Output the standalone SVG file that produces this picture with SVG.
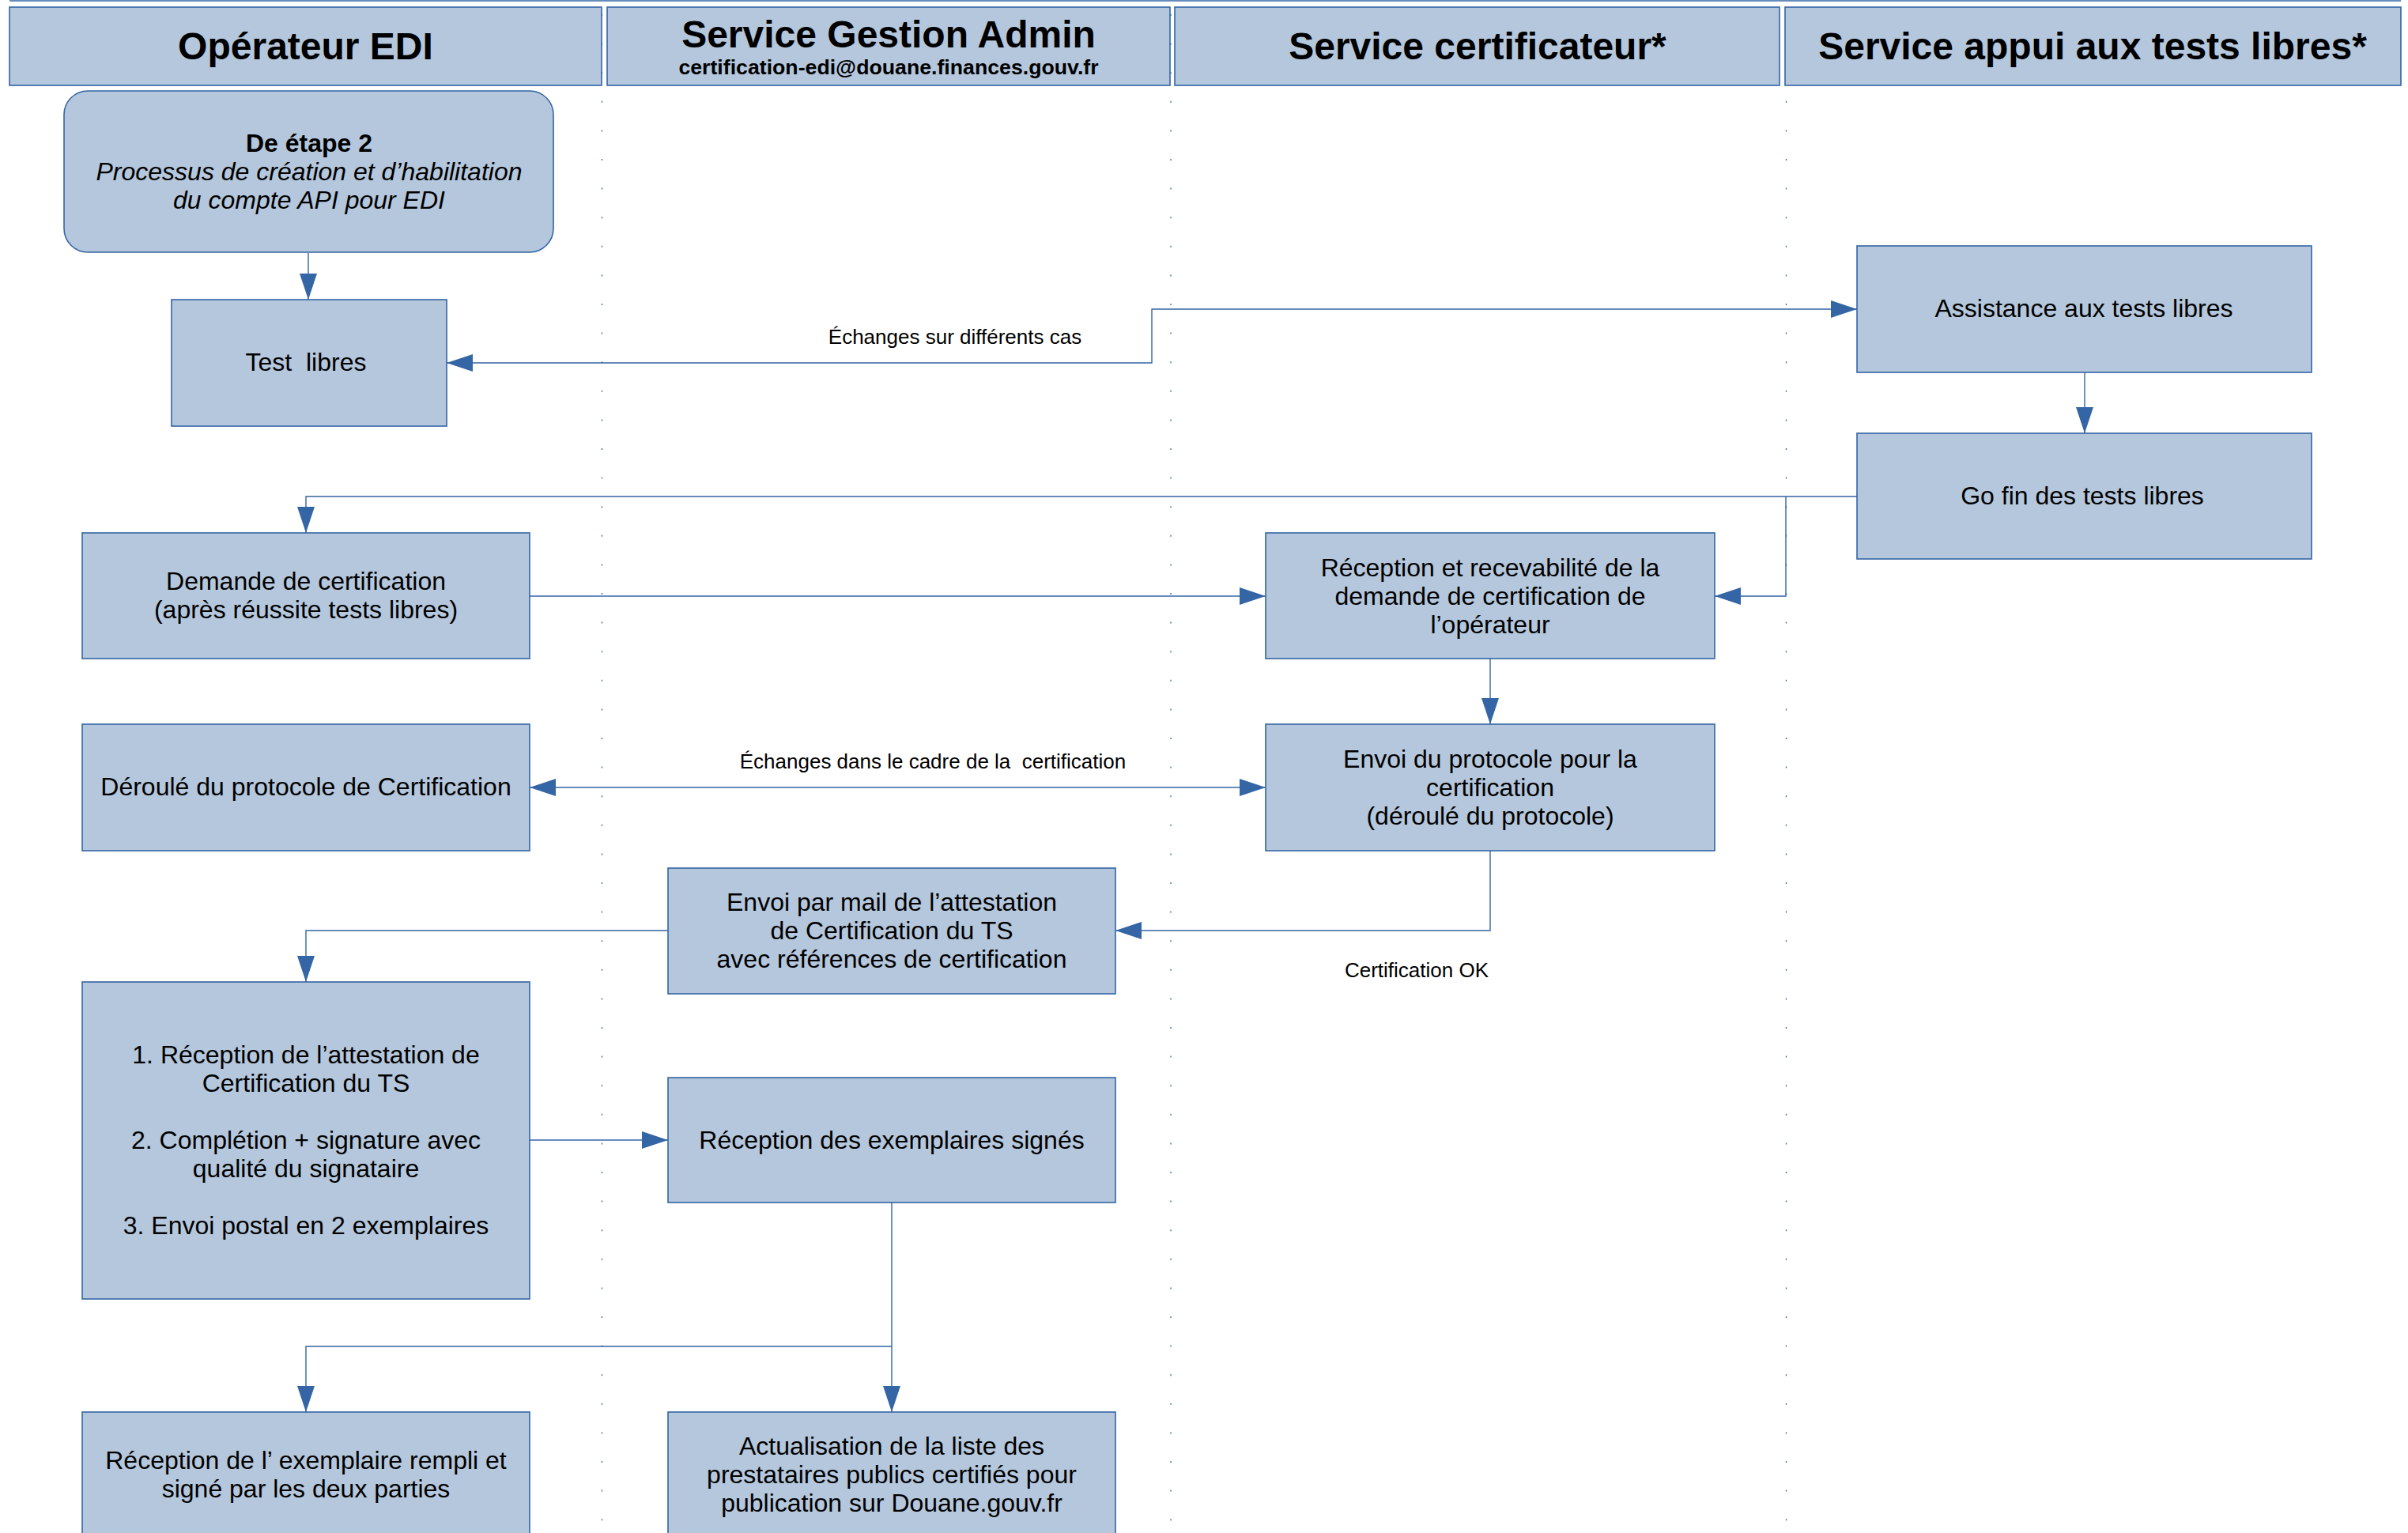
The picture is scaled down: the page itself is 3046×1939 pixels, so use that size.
<svg xmlns="http://www.w3.org/2000/svg" width="3046" height="1939" viewBox="0 0 3046 1939">
<style>
  .hdr { fill: #b4c7dc; stroke: #3465a4; stroke-width: 1.6; }
  .box { fill: #b4c7dc; stroke: #3465a4; stroke-width: 1.6; }
  .lane { stroke: #3465a4; stroke-width: 1.3; stroke-dasharray: 2 34.6; fill: none; }
  .conn { fill: none; stroke: #3465a4; stroke-width: 1.4; }
  .ht { font-family: "Liberation Sans", Arial, sans-serif; font-weight: bold; font-size: 48px; fill: #000; text-anchor: middle; }
  .mail { font-family: "Liberation Sans", Arial, sans-serif; font-weight: bold; font-size: 26.7px; fill: #000; text-anchor: middle; }
  .t { font-family: "Liberation Sans", Arial, sans-serif; font-size: 32px; fill: #000; text-anchor: middle; }
  .lbl { font-family: "Liberation Sans", Arial, sans-serif; font-size: 26px; fill: #000; text-anchor: middle; }
</style>
<defs>
  <marker id="arr" markerUnits="userSpaceOnUse" markerWidth="34" markerHeight="22" refX="33" refY="11" orient="auto-start-reverse">
    <path d="M0,0 L33,11 L0,22 z" fill="#3465a4"/>
  </marker>
</defs>
<rect width="3046" height="1939" fill="#ffffff"/>

<g id="lanes">
  <line x1="12" y1="1" x2="3037" y2="1" stroke="#3465a4" stroke-width="1.6"/>
  <line class="lane" x1="761.5" y1="18" x2="761.5" y2="1939"/>
  <line class="lane" x1="1481" y1="18" x2="1481" y2="1939"/>
  <line class="lane" x1="2259.5" y1="18" x2="2259.5" y2="1939"/>
</g>

<g id="header-operateur">
  <rect class="hdr" x="12" y="9" width="749" height="99"/>
  <text class="ht" x="386.5" y="75">Opérateur EDI</text>
</g>
<g id="header-gestion">
  <rect class="hdr" x="768" y="9" width="712" height="99"/>
  <text class="ht" x="1124" y="60">Service Gestion Admin</text>
  <text class="mail" x="1124" y="94">certification-edi@douane.finances.gouv.fr</text>
</g>
<g id="header-certificateur">
  <rect class="hdr" x="1486" y="9" width="765" height="99"/>
  <text class="ht" x="1869" y="75">Service certificateur*</text>
</g>
<g id="header-appui">
  <rect class="hdr" x="2258" y="9" width="779" height="99"/>
  <text class="ht" x="2647" y="75">Service appui aux tests libres*</text>
</g>

<g id="connectors">
  <path class="conn" d="M390,320 V379" marker-end="url(#arr)"/>
  <path class="conn" d="M2349,391 H1457 V459 H565" marker-start="url(#arr)" marker-end="url(#arr)"/>
  <path class="conn" d="M2637,471 V548" marker-end="url(#arr)"/>
  <path class="conn" d="M2349,628 H387 V674" marker-end="url(#arr)"/>
  <path class="conn" d="M2259,628 V754 H2169" marker-end="url(#arr)"/>
  <path class="conn" d="M670,754 H1601" marker-end="url(#arr)"/>
  <path class="conn" d="M1885,833 V916" marker-end="url(#arr)"/>
  <path class="conn" d="M670,996 H1601" marker-start="url(#arr)" marker-end="url(#arr)"/>
  <path class="conn" d="M1885,1076 V1177 H1411" marker-end="url(#arr)"/>
  <path class="conn" d="M845,1177 H387 V1242" marker-end="url(#arr)"/>
  <path class="conn" d="M670,1442 H845" marker-end="url(#arr)"/>
  <path class="conn" d="M1128,1521 V1786" marker-end="url(#arr)"/>
  <path class="conn" d="M1128,1703 H387 V1786" marker-end="url(#arr)"/>
  <text class="lbl" x="1208" y="435">Échanges sur différents cas</text>
  <text class="lbl" x="1180" y="972" xml:space="preserve">Échanges dans le cadre de la  certification</text>
  <text class="lbl" x="1792" y="1236">Certification OK</text>
</g>

<g id="n-start">
  <rect class="box" x="81" y="115" width="619" height="204" rx="30" ry="30"/>
  <text class="t" x="391" y="192" font-weight="bold">De étape 2</text>
  <text class="t" x="391" y="228" font-style="italic">Processus de création et d’habilitation</text>
  <text class="t" x="391" y="264" font-style="italic">du compte API pour EDI</text>
</g>
<g id="n-test">
  <rect class="box" x="217" y="379" width="348" height="160"/>
  <text class="t" x="387" y="469" xml:space="preserve">Test  libres</text>
</g>
<g id="n-assistance">
  <rect class="box" x="2349" y="311" width="575" height="160"/>
  <text class="t" x="2636" y="401">Assistance aux tests libres</text>
</g>
<g id="n-gofin">
  <rect class="box" x="2349" y="548" width="575" height="159"/>
  <text class="t" x="2634" y="638">Go fin des tests libres</text>
</g>
<g id="n-demande">
  <rect class="box" x="104" y="674" width="566" height="159"/>
  <text class="t" x="387" y="746">Demande de certification</text>
  <text class="t" x="387" y="782">(après réussite tests libres)</text>
</g>
<g id="n-reception">
  <rect class="box" x="1601" y="674" width="568" height="159"/>
  <text class="t" x="1885" y="729">Réception et recevabilité de la</text>
  <text class="t" x="1885" y="765">demande de certification de</text>
  <text class="t" x="1885" y="801">l’opérateur</text>
</g>
<g id="n-deroule">
  <rect class="box" x="104" y="916" width="566" height="160"/>
  <text class="t" x="387" y="1006">Déroulé du protocole de Certification</text>
</g>
<g id="n-envoi-protocole">
  <rect class="box" x="1601" y="916" width="568" height="160"/>
  <text class="t" x="1885" y="971">Envoi du protocole pour la</text>
  <text class="t" x="1885" y="1007">certification</text>
  <text class="t" x="1885" y="1043">(déroulé du protocole)</text>
</g>
<g id="n-envoi-mail">
  <rect class="box" x="845" y="1098" width="566" height="159"/>
  <text class="t" x="1128" y="1152">Envoi par mail de l’attestation</text>
  <text class="t" x="1128" y="1188">de Certification du TS</text>
  <text class="t" x="1128" y="1224">avec références de certification</text>
</g>
<g id="n-attestation">
  <rect class="box" x="104" y="1242" width="566" height="401"/>
  <text class="t" x="387" y="1345">1. Réception de l’attestation de</text>
  <text class="t" x="387" y="1381">Certification du TS</text>
  <text class="t" x="387" y="1453">2. Complétion + signature avec</text>
  <text class="t" x="387" y="1489">qualité du signataire</text>
  <text class="t" x="387" y="1561">3. Envoi postal en 2 exemplaires</text>
</g>
<g id="n-exemplaires">
  <rect class="box" x="845" y="1363" width="566" height="158"/>
  <text class="t" x="1128" y="1453">Réception des exemplaires signés</text>
</g>
<g id="n-exemplaire-rempli">
  <rect class="box" x="104" y="1786" width="566" height="180"/>
  <text class="t" x="387" y="1858">Réception de l’ exemplaire rempli et</text>
  <text class="t" x="387" y="1894">signé par les deux parties</text>
</g>
<g id="n-actualisation">
  <rect class="box" x="845" y="1786" width="566" height="180"/>
  <text class="t" x="1128" y="1840">Actualisation de la liste des</text>
  <text class="t" x="1128" y="1876">prestataires publics certifiés pour</text>
  <text class="t" x="1128" y="1912">publication sur Douane.gouv.fr</text>
</g>
</svg>
